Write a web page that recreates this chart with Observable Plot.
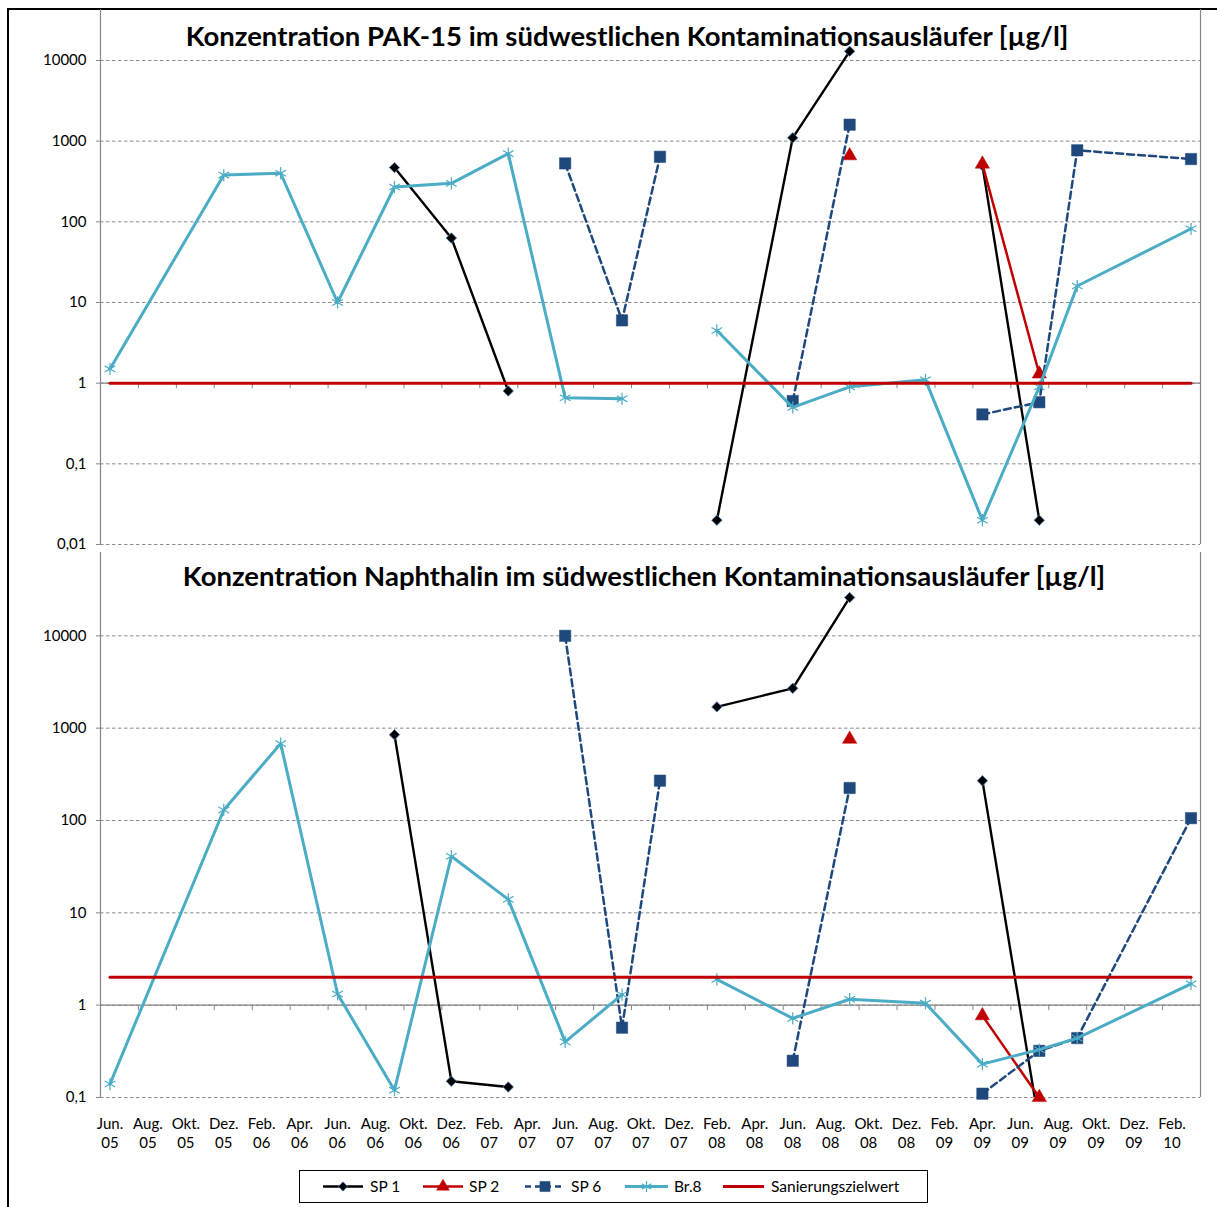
<!DOCTYPE html>
<html><head><meta charset="utf-8">
<script src="https://cdn.jsdelivr.net/npm/d3@7"></script>
<script src="https://cdn.jsdelivr.net/npm/@observablehq/plot@0.6"></script>
<style>
html,body{margin:0;padding:0;background:#fff;overflow:hidden;}
#root{position:relative;width:1217px;height:1207px;font-family:Lato,"Open Sans",sans-serif;overflow:hidden;}
#frame{position:absolute;left:7px;top:8px;width:1400px;height:1400px;border-left:2px solid #000;border-top:2px solid #000;}
.panel{position:absolute;left:0;}
.title{position:absolute;font-weight:700;font-size:27.5px;line-height:27.5px;white-space:nowrap;transform:translateX(-50%);color:#000;}
#legend{position:absolute;left:299px;top:1170px;width:629px;height:33px;border:1px solid #000;box-sizing:border-box;background:#fff;}
</style></head><body><div id="root"><div id="frame"></div></div>
<script>
// ---------- data ----------
const firstMonth = "2005-06";
const lastMonth = "2010-03";
const tickLabels = ["Jun.\n05","Aug.\n05","Okt.\n05","Dez.\n05","Feb.\n06","Apr.\n06","Jun.\n06","Aug.\n06","Okt.\n06","Dez.\n06",
  "Feb.\n07","Apr.\n07","Jun.\n07","Aug.\n07","Okt.\n07","Dez.\n07","Feb.\n08","Apr.\n08","Jun.\n08","Aug.\n08",
  "Okt.\n08","Dez.\n08","Feb.\n09","Apr.\n09","Jun.\n09","Aug.\n09","Okt.\n09","Dez.\n09","Feb.\n10"];
const seriesNames = ["SP 1","SP 2","SP 6","Br.8","Sanierungszielwert"];

const titlePak = "Konzentration PAK-15 im südwestlichen Kontaminationsausläufer [µg/l]";
const titleNap = "Konzentration Naphthalin im südwestlichen Kontaminationsausläufer [µg/l]";

// PAK-15 (null = break in line)
const sp1Pak = [["2006-09",470],["2006-12",63],["2007-03",0.8],null,["2008-02",0.02],["2008-06",1100],["2008-09",13000],null,["2009-04",500],["2009-07",0.02]];
const sp2Pak = [["2008-09",660],null,["2009-04",520],["2009-07",1.3]];
const sp6Pak = [["2007-06",530],["2007-09",6],["2007-11",640],null,["2008-06",0.6],["2008-09",1600],null,["2009-04",0.41],["2009-07",0.58],["2009-09",770],["2010-03",600]];
const br8Pak = [["2005-06",1.5],["2005-12",380],["2006-03",400],["2006-06",10],["2006-09",270],["2006-12",300],["2007-03",700],["2007-06",0.66],["2007-09",0.64],null,
  ["2008-02",4.5],["2008-06",0.5],["2008-09",0.9],["2009-01",1.1],["2009-04",0.02],["2009-07",0.9],["2009-09",16],["2010-03",82]];
const targetPak = 1;

// Naphthalin
const sp1Nap = [["2006-09",850],["2006-12",0.15],["2007-03",0.13],null,["2008-02",1700],["2008-06",2700],["2008-09",26000],null,["2009-04",270],["2009-07",0.05]];
const sp2Nap = [["2008-09",760],null,["2009-04",0.77],["2009-07",0.1]];
const sp6Nap = [["2007-06",10000],["2007-09",0.57],["2007-11",270],null,["2008-06",0.25],["2008-09",225],null,["2009-04",0.11],["2009-07",0.32],["2009-09",0.44],["2010-03",106]];
const br8Nap = [["2005-06",0.14],["2005-12",130],["2006-03",680],["2006-06",1.32],["2006-09",0.12],["2006-12",41],["2007-03",14],["2007-06",0.4],["2007-09",1.3],null,
  ["2008-02",1.9],["2008-06",0.72],["2008-09",1.16],["2009-01",1.05],["2009-04",0.23],["2009-07",0.33],["2009-09",0.44],["2010-03",1.7]];
const targetNap = 2;

const yTicksPak = [0.01,0.1,1,10,100,1000,10000];
const yTicksNap = [0.1,1,10,100,1000,10000];
const yDomainPak = [0.01, 42850];
const yDomainNap = [0.1, 79900];

// ---------- helpers ----------
const monthIndex = s => { const [y,m] = s.split("-").map(Number); return (y-2005)*12 + (m-6); };
const nCat = monthIndex(lastMonth) - monthIndex(firstMonth) + 1; // 58 monthly categories
const xDomain = [-0.5, nCat - 0.5];
const tickIdx = tickLabels.map((_, i) => i * 2);
const boundaries = d3.range(1.5, nCat - 1, 2);
const toPoints = arr => arr.map(p => p ? {x: monthIndex(p[0]), y: p[1]} : {x: NaN, y: NaN});
const fmt = d => String(d).replace(".", ",");

const tickSymbol = {draw(ctx){ ctx.moveTo(0,0); ctx.lineTo(0,5); }};

const styles = {
  "SP 1": {stroke:"#000000", strokeWidth:2.4, dash:null, symbol:"diamond2", r:4.7, fill:"#000000", mstroke:"#4F81BD", msw:0.8},
  "SP 2": {stroke:"#C00000", strokeWidth:2.5, dash:null, symbol:"triangle", r:5.3, fill:"#C00000", mstroke:"#C00000", msw:0.5},
  "SP 6": {stroke:"#1F497D", strokeWidth:2.5, dash:"7,4", symbol:"square", r:6.4, fill:"#1F497D", mstroke:"#1F497D", msw:0.5},
  "Br.8": {stroke:"#4BACC6", strokeWidth:3, dash:null, symbol:"asterisk", r:5.8, fill:"none", mstroke:"#4BACC6", msw:1.2},
  "Sanierungszielwert": {stroke:"#C00000", strokeWidth:3, dash:null}
};

function panel({series, target, yDomain, yTicks, height, marginTop, marginBottom, showX}) {
  const grey = "#868686";
  const marks = [
    Plot.ruleY(yTicks, {stroke:"#8c8c8c", strokeWidth:1, strokeDasharray:"3.5,2.5"}),
    Plot.ruleX([xDomain[0]], {stroke:grey, strokeWidth:1.2}),
    Plot.ruleX([xDomain[1]], {stroke:grey, strokeWidth:1.2}),
    Plot.ruleY([1], {stroke:grey, strokeWidth:1.2}),
    Plot.dot(boundaries, {x:d=>d, y:()=>1, symbol:tickSymbol, stroke:grey, fill:"none", strokeWidth:1}),
    Plot.axisY(yTicks, {anchor:"left", tickSize:4, tickPadding:10, tickFormat:fmt, fontSize:15, stroke:grey, label:null})
  ];
  if (showX) {
    marks.push(Plot.axisX(tickIdx, {anchor:"bottom", tickSize:0, tickPadding:18, tickFormat:d=>tickLabels[d/2], fontSize:15, lineHeight:1.27, label:null}));
  }
  const [lo] = yDomain;
  series.forEach(([name, arr]) => {
    const s = styles[name];
    const pts = toPoints(arr);
    marks.push(Plot.line(pts, {x:"x", y:"y", stroke:s.stroke, strokeWidth:s.strokeWidth, strokeDasharray:s.dash || undefined, clip:true}));
    marks.push(Plot.dot(pts.filter(p => p.y >= lo), {x:"x", y:"y", symbol:s.symbol, r:s.r, fill:s.fill, stroke:s.mstroke, strokeWidth:s.msw}));
  });
  const t = styles["Sanierungszielwert"];
  marks.push(Plot.line([{x:monthIndex(firstMonth), y:target},{x:monthIndex(lastMonth), y:target}], {x:"x", y:"y", stroke:t.stroke, strokeWidth:t.strokeWidth}));
  return Plot.plot({
    width:1217, height, marginLeft:100, marginRight:17, marginTop, marginBottom,
    style:{background:"transparent", fontFamily:"Lato, 'Open Sans', sans-serif", color:"#000"},
    x:{type:"linear", domain:xDomain, axis:null},
    y:{type:"log", domain:yDomain, axis:null},
    marks
  });
}

const root = document.getElementById("root");
const p1 = panel({series:[["SP 1",sp1Pak],["SP 2",sp2Pak],["SP 6",sp6Pak],["Br.8",br8Pak]], target:targetPak,
  yDomain:yDomainPak, yTicks:yTicksPak, height:552, marginTop:9, marginBottom:8, showX:false});
p1.classList.add("panel"); p1.style.top = "0px";
root.appendChild(p1);
const p2 = panel({series:[["SP 1",sp1Nap],["SP 2",sp2Nap],["SP 6",sp6Nap],["Br.8",br8Nap]], target:targetNap,
  yDomain:yDomainNap, yTicks:yTicksNap, height:616, marginTop:8, marginBottom:63, showX:true});
p2.classList.add("panel"); p2.style.top = "544px";
root.appendChild(p2);

// titles
function addTitle(text, cx, top) {
  const d = document.createElement("div");
  d.className = "title"; d.textContent = text;
  d.style.left = cx + "px"; d.style.top = top + "px";
  root.appendChild(d);
}
addTitle(titlePak, 627, 22);
addTitle(titleNap, 644, 562);

// legend
const leg = document.createElement("div"); leg.id = "legend"; root.appendChild(leg);
const lsvg = d3.select(leg).append("svg").attr("width", 627).attr("height", 31).style("display","block");
const legX = {"SP 1":[23,63,70], "SP 2":[123,163,169], "SP 6":[225,265,271], "Br.8":[325,368,374], "Sanierungszielwert":[423,464,471]};
const symMap = {diamond2:d3.symbolDiamond2, triangle:d3.symbolTriangle, square:d3.symbolSquare, asterisk:d3.symbolAsterisk};
seriesNames.forEach(name => {
  const s = styles[name], [x1, x2, tx] = legX[name];
  lsvg.append("line").attr("x1",x1).attr("x2",x2).attr("y1",15.5).attr("y2",15.5)
    .attr("stroke",s.stroke).attr("stroke-width",s.strokeWidth).attr("stroke-dasharray", s.dash ? "6,4" : null);
  if (s.symbol) {
    lsvg.append("path").attr("transform",`translate(${(x1+x2)/2},15.5)`)
      .attr("d", d3.symbol(symMap[s.symbol], s.r*s.r*Math.PI*0.8)())
      .attr("fill", s.fill).attr("stroke", s.mstroke).attr("stroke-width", s.msw);
  }
  lsvg.append("text").attr("x",tx).attr("y",21).attr("font-size",15.5).attr("font-family","Lato, 'Open Sans', sans-serif").attr("fill","#000").text(name);
});
</script>
</body></html>
